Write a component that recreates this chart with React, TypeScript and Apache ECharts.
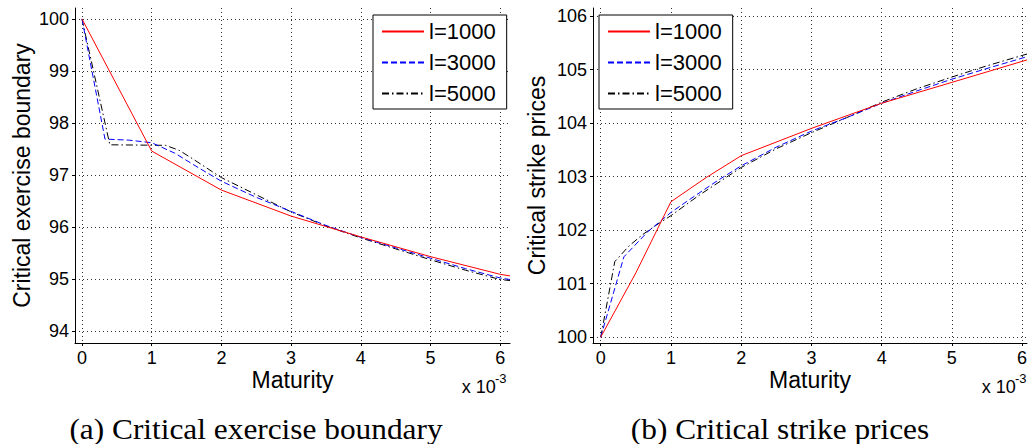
import React, { useEffect, useRef } from "react";
import * as echarts from "echarts";

// ---------- data (maturity in units of 1e-3) ----------
const seriesNames = ["l=1000", "l=3000", "l=5000"];
const xTickValues = [0, 1, 2, 3, 4, 5, 6];
const boundaryYTicks = [94, 95, 96, 97, 98, 99, 100];
const strikeYTicks = [100, 101, 102, 103, 104, 105, 106];

// (a) Critical exercise boundary
const bndX1000 = [0, 1, 2, 3, 4, 5, 6, 6.14];
const bndY1000 = [100, 97.46, 96.71, 96.21, 95.81, 95.43, 95.09, 95.06];
const bndX3000 = [0, 0.33, 0.67, 1.0, 1.33, 1.67, 2, 2.5, 3, 3.5, 4, 4.5, 5, 5.5, 6, 6.14];
const bndY3000 = [100, 97.69, 97.67, 97.62, 97.42, 97.14, 96.88, 96.57, 96.3, 96.03, 95.8, 95.6, 95.4, 95.2, 95.02, 94.99];
const bndX5000 = [0, 0.4, 1.2, 1.4, 1.6, 2, 2.5, 3, 3.5, 4, 4.5, 5, 5.5, 6, 6.14];
const bndY5000 = [100, 97.58, 97.57, 97.47, 97.3, 96.95, 96.62, 96.29, 96.02, 95.79, 95.58, 95.37, 95.17, 94.99, 94.97];

// (b) Critical strike prices
const strX1000 = [0, 0.5, 1, 1.5, 2, 3, 4, 5, 6.07];
const strY1000 = [100, 101.2, 102.53, 102.98, 103.39, 103.9, 104.37, 104.76, 105.18];
const strX3000 = [0, 0.33, 0.67, 1, 1.33, 1.67, 2, 2.5, 3, 3.5, 4, 4.5, 5, 5.5, 6.07];
const strY3000 = [100, 101.5, 101.97, 102.33, 102.63, 102.93, 103.2, 103.55, 103.85, 104.1, 104.37, 104.6, 104.82, 105.02, 105.24];
const strX5000 = [0, 0.2, 0.4, 0.6, 0.8, 1, 1.4, 2, 2.5, 3, 3.5, 4, 4.5, 5, 5.5, 6.07];
const strY5000 = [100, 101.41, 101.7, 101.92, 102.1, 102.27, 102.65, 103.17, 103.52, 103.82, 104.1, 104.39, 104.64, 104.86, 105.07, 105.29];

const captionA = "(a) Critical exercise boundary";
const captionB = "(b) Critical strike prices";

const SANS = "Liberation Sans";
const SERIF = "Liberation Serif";

const lineStyles: any[] = [
  { color: "#ff0000", width: 1, type: "solid" },
  { color: "#0000ff", width: 1, type: [6, 3] },
  { color: "#000000", width: 1, type: [7, 3, 1.5, 3] },
];

function pairs(xs: number[], ys: number[]) {
  return xs.map((x, i) => [x, ys[i]]);
}

function makeSeries(idx: number, data: number[][][]) {
  return data.map((d, k) => ({
    type: "line",
    name: seriesNames[k],
    xAxisIndex: idx,
    yAxisIndex: idx,
    data: d,
    symbol: "none",
    showSymbol: false,
    color: lineStyles[k].color,
    lineStyle: lineStyles[k],
    silent: true,
    z: 3 - k,
  }));
}

function xAxisCfg(idx: number, min: number, max: number) {
  return {
    type: "value",
    gridIndex: idx,
    min,
    max,
    name: "Maturity",
    nameLocation: "middle",
    nameGap: 25,
    nameMoveOverlap: false,
    nameTextStyle: { fontFamily: SANS, fontSize: 23, color: "#000" },
    axisLine: { show: true, onZero: false, lineStyle: { color: "#000", width: 1 } },
    axisTick: { show: true, inside: false, length: 3, customValues: xTickValues, lineStyle: { color: "#000" } },
    axisLabel: { show: true, customValues: xTickValues, margin: 6, fontFamily: SANS, fontSize: 18, color: "#000" },
    splitLine: { show: true, lineStyle: { color: "#333", width: 1, type: [1, 3] } },
  };
}

function yAxisCfg(idx: number, min: number, max: number, ticks: number[], name: string, gap: number) {
  return {
    type: "value",
    gridIndex: idx,
    min,
    max,
    name,
    nameLocation: "middle",
    nameRotate: 90,
    nameGap: gap,
    nameMoveOverlap: false,
    nameTextStyle: { fontFamily: SANS, fontSize: 23, color: "#000" },
    axisLine: { show: true, onZero: false, lineStyle: { color: "#000", width: 1 } },
    axisTick: { show: true, inside: false, length: 3, customValues: ticks, lineStyle: { color: "#000" } },
    axisLabel: { show: true, customValues: ticks, margin: 6, fontFamily: SANS, fontSize: 18, color: "#000" },
    splitLine: { show: true, lineStyle: { color: "#333", width: 1, type: [1, 3] } },
  };
}

function legendCfg(left: number) {
  return {
    orient: "vertical",
    left,
    top: 15,
    data: seriesNames,
    itemWidth: 42,
    itemHeight: 13,
    itemGap: 8,
    padding: [5, 11, 4, 8],
    borderColor: "#000",
    borderWidth: 1,
    borderRadius: 0,
    backgroundColor: "#fff",
    selectedMode: false,
    itemStyle: { opacity: 0 },
    textStyle: { fontFamily: SANS, fontSize: 22, lineHeight: 23, color: "#000" },
  };
}

export default function App() {
  const ref = useRef<HTMLDivElement>(null);
  useEffect(() => {
    if (!ref.current) return;
    const chart = echarts.init(ref.current, null, { renderer: "svg" });
    const option: any = {
      animation: false,
      backgroundColor: "#fff",
      grid: [
        { left: 75, top: 8, width: 435, height: 335, outerBoundsMode: "none", containLabel: false },
        { left: 593, top: 8, width: 434, height: 335, outerBoundsMode: "none", containLabel: false },
      ],
      xAxis: [xAxisCfg(0, -0.1, 6.14), xAxisCfg(1, -0.11, 6.07)],
      yAxis: [
        yAxisCfg(0, 93.77, 100.21, boundaryYTicks, "Critical exercise boundary", 42),
        yAxisCfg(1, 99.89, 106.15, strikeYTicks, "Critical strike prices", 45),
      ],
      legend: [legendCfg(373), legendCfg(599)],
      series: [
        ...makeSeries(0, [pairs(bndX1000, bndY1000), pairs(bndX3000, bndY3000), pairs(bndX5000, bndY5000)]),
        ...makeSeries(1, [pairs(strX1000, strY1000), pairs(strX3000, strY3000), pairs(strX5000, strY5000)]),
      ],
      graphic: [
        { type: "text", x: 461.7, y: 387, style: { text: "x 10", fill: "#000", fontFamily: SANS, fontSize: 18, textAlign: "left", textVerticalAlign: "middle" } },
        { type: "text", x: 495, y: 378, style: { text: "-3", fill: "#000", fontFamily: SANS, fontSize: 13, textAlign: "left", textVerticalAlign: "middle" } },
        { type: "text", x: 981.7, y: 387, style: { text: "x 10", fill: "#000", fontFamily: SANS, fontSize: 18, textAlign: "left", textVerticalAlign: "middle" } },
        { type: "text", x: 1015, y: 378, style: { text: "-3", fill: "#000", fontFamily: SANS, fontSize: 13, textAlign: "left", textVerticalAlign: "middle" } },
        { type: "text", x: 256, y: 429.5, scaleX: 1.1, style: { text: captionA, fill: "#000", fontFamily: SERIF, fontSize: 28.5, textAlign: "center", textVerticalAlign: "middle" } },
        { type: "text", x: 780, y: 429.5, scaleX: 1.1, style: { text: captionB, fill: "#000", fontFamily: SERIF, fontSize: 28.5, textAlign: "center", textVerticalAlign: "middle" } },
      ],
    };
    chart.setOption(option);
    return () => chart.dispose();
  }, []);
  return (
    <div
      ref={ref}
      style={{ position: "absolute", left: 0, top: 0, width: 1030, height: 444, background: "#fff" }}
    />
  );
}
